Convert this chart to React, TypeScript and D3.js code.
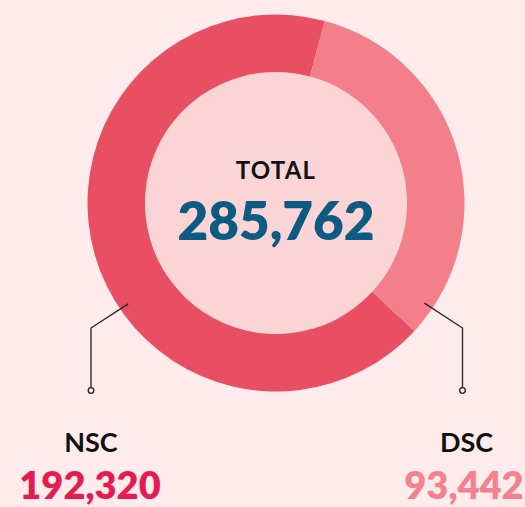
import React from "react";
import * as d3 from "d3";

const categories = ["NSC", "DSC"];
const values = [192320, 93442];
const totalLabel = "TOTAL";

const W = 525;
const H = 507;
const cx = 276;
const cy = 203;
const outerR = 188.5;
const innerR = 131;

const sliceColors = ["#e84f62", "#f27f8a"];
const valueColors = ["#e61b50", "#f4818d"];

export default function App() {
  const fmt = d3.format(",");
  const total = d3.sum(values);
  const dscFrac = values[1] / total;
  const dscStart = (15 * Math.PI) / 180;
  const start = dscStart + dscFrac * 2 * Math.PI;
  const pie = d3
    .pie<number>()
    .sort(null)
    .startAngle(start)
    .endAngle(start + 2 * Math.PI);
  const arcs = pie(values);
  const arcGen = d3.arc<d3.PieArcDatum<number>>().innerRadius(innerR).outerRadius(outerR);

  // leader line geometry (anchor angle in degrees clockwise from top, radius)
  const leaders = [
    { angle: 235.7, r: 179, x: 91 },
    { angle: 124, r: 179, x: 462.5 },
  ];
  const kneeY = 328;
  const dotY = 390.5;

  return (
    <svg
      width={W}
      height={H}
      style={{ position: "absolute", left: 0, top: 0, display: "block" }}
      fontFamily="Lato, 'Open Sans', sans-serif"
    >
      <rect width={W} height={H} fill="#fdeceb" />
      <g transform={`translate(${cx},${cy})`}>
        <circle r={innerR} fill="#fbd5d5" />
        {arcs.map((a, i) => (
          <path key={categories[i]} d={arcGen(a) || ""} fill={sliceColors[i]} />
        ))}
      </g>
      <text x={cx} y={179} textAnchor="middle" fontSize={24} fontWeight={700} letterSpacing={1.2} fill="#111">
        {totalLabel}
      </text>
      <text x={cx} y={240} textAnchor="middle" fontSize={53} fontWeight={800} fill="#0d5a82">
        {fmt(total)}
      </text>
      {leaders.map((l, i) => {
        const rad = (l.angle * Math.PI) / 180;
        const sx = cx + l.r * Math.sin(rad);
        const sy = cy - l.r * Math.cos(rad);
        return (
          <g key={categories[i]}>
            <polyline
              points={`${sx},${sy} ${l.x},${kneeY} ${l.x},${dotY - 3}`}
              fill="none"
              stroke="#222"
              strokeWidth={1.3}
            />
            <circle cx={l.x} cy={dotY} r={2.8} fill="#fdeceb" stroke="#222" strokeWidth={1.3} />
            <text x={l.x + (i === 0 ? 0 : 4)} y={452} textAnchor="middle" fontSize={27} fontWeight={700} fill="#111">
              {categories[i]}
            </text>
            <text
              x={i === 0 ? 90 : 464}
              y={499}
              textAnchor="middle"
              fontSize={38}
              fontWeight={800}
              fill={valueColors[i]}
            >
              {fmt(values[i])}
            </text>
          </g>
        );
      })}
    </svg>
  );
}
